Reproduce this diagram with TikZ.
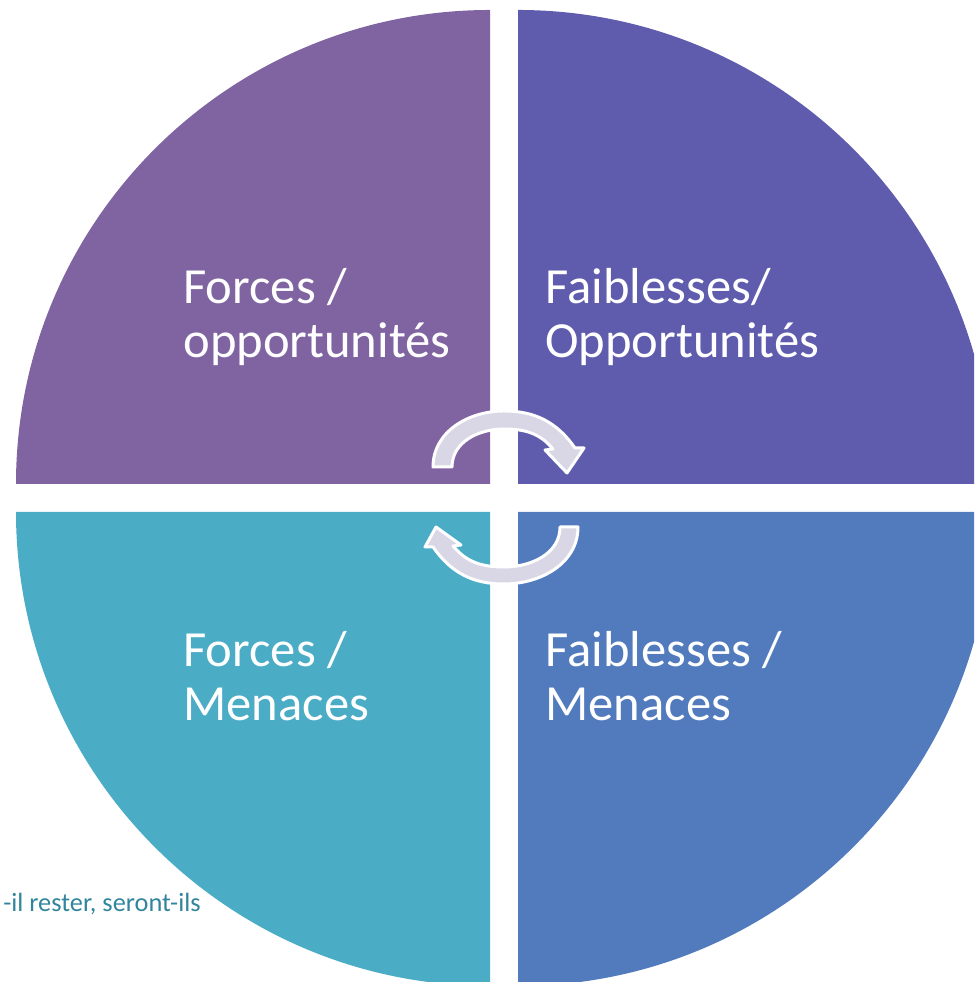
\documentclass[tikz,border=0pt]{standalone}
\usepackage{fontspec}
\setmainfont{Carlito}
\usepackage{xcolor}
\usepackage{tikz}

\definecolor{quadTL}{HTML}{8064A2}
\definecolor{quadTR}{HTML}{5F5CAE}
\definecolor{quadBL}{HTML}{4BACC6}
\definecolor{quadBR}{HTML}{527BBD}
\definecolor{arrowfill}{HTML}{D9D6E6}
\definecolor{noteteal}{HTML}{31859C}

\begin{document}
\begin{tikzpicture}[x=0.02cm, y=0.02cm,
    quadtext/.style={text=white, align=left, inner sep=0pt, anchor=base west,
      font=\fontsize{28.8}{30.8}\selectfont},
    cyclearrow/.style={fill=arrowfill, draw=white, line width=1.7pt, line join=round}]
    \useasboundingbox (0,0) rectangle (974,982);
    \clip (0,0) rectangle (974,982);

    % four quarter discs
    \fill[quadTL] (490,498)--(16,498) arc (180:90:474)--cycle;
    \fill[quadTR] (518,498)--(518,972) arc (90:0:474)--cycle;
    \fill[quadBL] (490,470)--(490,-4) arc (270:180:474)--cycle;
    \fill[quadBR] (518,470)--(992,470) arc (0:-90:474)--cycle;

    % labels (base = last line)
    \node[quadtext] (fo) at (183,624) {Forces /\\opportunités};
    \node[quadtext] (fbo) at (545,624) {Faiblesses/\\Opportunités};
    \node[quadtext] (fm) at (183,261) {Forces /\\Menaces};
    \node[quadtext] (fbm) at (545,261) {Faiblesses /\\Menaces};

    % circular arrows
    \draw[cyclearrow] (433,515) to[out=90,in=180] (504,571) to[out=0,in=125] (575,534)
      --(584,534)--(567,509)--(545,532)--(553,533)
      to[out=130,in=0] (504,553) to[out=180,in=90] (452,515)--cycle;
    \draw[cyclearrow] (578,455) to[out=-90,in=0] (504,398) to[out=180,in=-55] (433,435)
      --(425,435)--(436,455)--(461,437)--(453,436)
      to[out=-50,in=180] (504,415) to[out=0,in=-90] (560,455)--cycle;

    \node[text=noteteal, inner sep=0pt, anchor=base east, font=\fontsize{15}{18}\selectfont]
      (note) at (201,70) {-il rester, seront-ils};
\end{tikzpicture}
\end{document}
